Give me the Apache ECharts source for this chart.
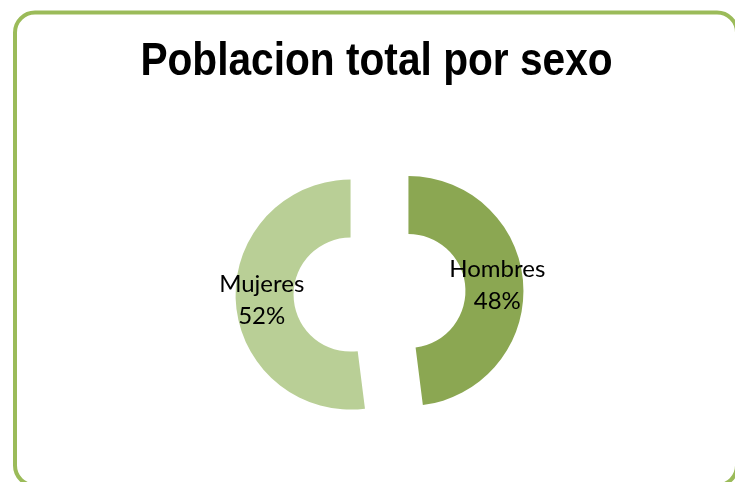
<!DOCTYPE html>
<html>
<head>
<meta charset="utf-8">
<script src="https://cdn.jsdelivr.net/npm/echarts@6/dist/echarts.min.js"></script>
<style>
html,body{margin:0;padding:0;background:#fff;}
#chart{width:735px;height:482px;}
</style>
</head>
<body>
<div id="chart"></div>
<script>
const titleText = 'Poblacion total por sexo';
const categories = ['Hombres', 'Mujeres'];
const values = [48, 52];
const colors = ['#8BA752', '#B9CF96'];

const chart = echarts.init(document.getElementById('chart'), null, {renderer: 'canvas'});
chart.setOption({
  backgroundColor: '#ffffff',
  animation: false,
  graphic: [{
    type: 'rect',
    shape: {x: 15, y: 12.5, width: 722, height: 473, r: 20},
    style: {fill: 'none', stroke: '#9BBB59', lineWidth: 4},
    silent: true,
    z: -1
  }, {
    type: 'text',
    x: 376.5,
    y: 62,
    scaleX: 0.884,
    silent: true,
    style: {
      text: titleText,
      align: 'center',
      verticalAlign: 'middle',
      fontFamily: '"Liberation Sans", Arial, sans-serif',
      fontWeight: 'bold',
      fontSize: 46,
      fill: '#000'
    }
  }],
  series: [{
    type: 'pie',
    center: [379.5, 292.8],
    radius: [57, 115],
    startAngle: 90,
    clockwise: true,
    selectedMode: 'multiple',
    selectedOffset: 29,
    avoidLabelOverlap: false,
    label: {
      show: true,
      position: 'inside',
      formatter: p => p.name + '\n' + Math.round(p.percent) + '%',
      fontFamily: 'Lato, sans-serif',
      fontSize: 24,
      lineHeight: 32,
      color: '#000'
    },
    labelLine: {show: false},
    emphasis: {disabled: true},
    data: categories.map((c, i) => ({
      name: c,
      value: values[i],
      selected: true,
      itemStyle: {color: colors[i]}
    }))
  }]
});
</script>
</body>
</html>
